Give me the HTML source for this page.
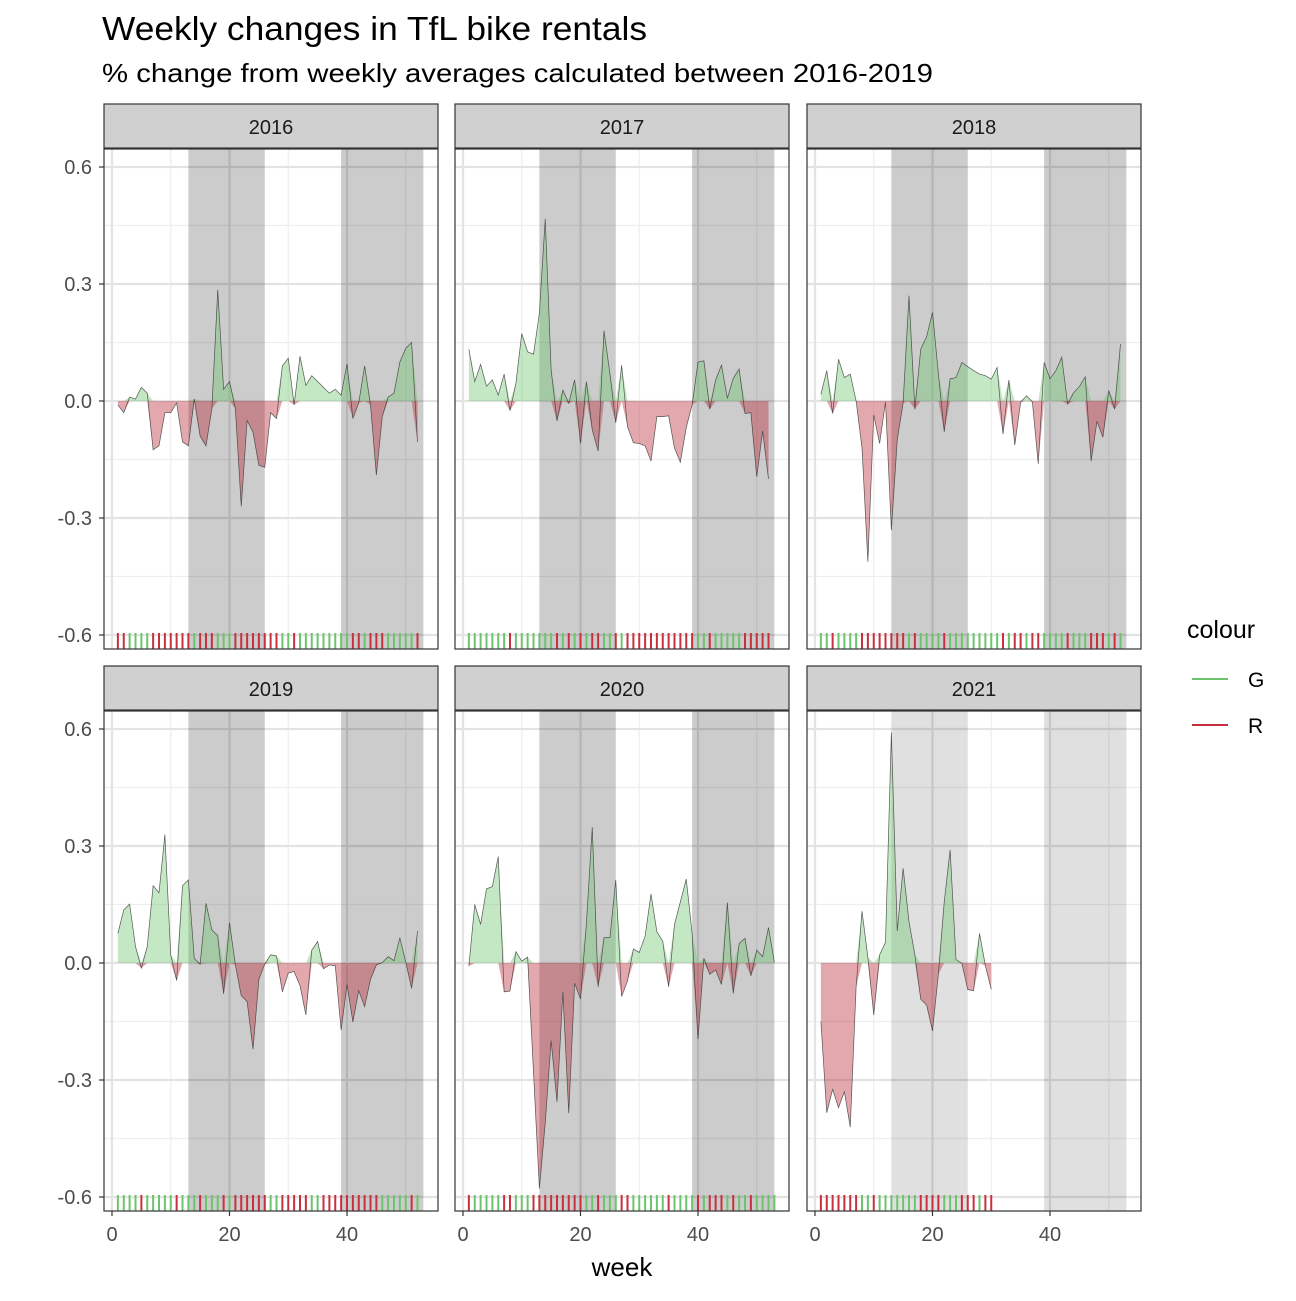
<!DOCTYPE html>
<html><head><meta charset="utf-8"><style>
body{margin:0;background:#fff;}
svg text{font-family:"Liberation Sans",Arial,sans-serif;}
</style></head><body>
<svg id="chart" width="1296" height="1296" viewBox="0 0 1296 1296" xmlns="http://www.w3.org/2000/svg">
<rect width="1296" height="1296" fill="#fff"/>
<text x="102" y="40" font-size="33" textLength="545" lengthAdjust="spacingAndGlyphs" fill="#000">Weekly changes in TfL bike rentals</text>
<text x="102" y="82" font-size="26" textLength="831" lengthAdjust="spacingAndGlyphs" fill="#000">% change from weekly averages calculated between 2016-2019</text>
<text x="622" y="1276" font-size="26" text-anchor="middle" fill="#000">week</text>
<g>
<text x="1187" y="638" font-size="25" fill="#000">colour</text>
<line x1="1192" y1="679" x2="1228" y2="679" stroke="#6cc46c" stroke-width="2"/>
<text x="1248" y="687" font-size="21" fill="#000">G</text>
<line x1="1192" y1="725" x2="1228" y2="725" stroke="#c8303f" stroke-width="2"/>
<text x="1248" y="733" font-size="21" fill="#000">R</text>
</g>
<g id="panels"></g>
</svg>
<script>
const years = ["2016","2017","2018","2019","2020","2021"];
const v2016 = [-0.01,-0.03,0.01,0.005,0.035,0.02,-0.125,-0.115,-0.03,-0.03,-0.005,-0.105,-0.115,0.005,-0.09,-0.115,-0.02,0.285,0.03,0.05,-0.02,-0.27,-0.05,-0.08,-0.165,-0.17,-0.03,-0.045,0.09,0.11,-0.01,0.115,0.04,0.065,0.05,0.035,0.02,0.03,0.015,0.095,-0.045,-0.005,0.09,-0.01,-0.19,-0.04,0.01,0.02,0.1,0.135,0.15,-0.105];
const v2017 = [0.133,0.05,0.094,0.038,0.054,0.015,0.069,-0.025,0.045,0.173,0.126,0.12,0.225,0.467,0.08,-0.051,0.028,-0.006,0.054,-0.109,0.05,-0.074,-0.128,0.18,0.071,-0.056,0.092,-0.066,-0.107,-0.109,-0.115,-0.154,-0.04,-0.04,-0.038,-0.121,-0.157,-0.068,-0.01,0.1,0.103,-0.021,0.054,0.092,0.007,0.058,0.082,-0.032,-0.03,-0.194,-0.077,-0.2];
const v2018 = [0.017,0.078,-0.032,0.107,0.06,0.069,0.0,-0.12,-0.412,-0.036,-0.109,-0.002,-0.331,-0.1,-0.005,0.27,-0.021,0.133,0.165,0.227,0.07,-0.079,0.057,0.06,0.099,0.088,0.078,0.069,0.065,0.056,0.086,-0.085,0.054,-0.113,-0.003,0.013,-0.002,-0.161,0.099,0.057,0.078,0.112,-0.008,0.021,0.037,0.062,-0.154,-0.052,-0.093,0.027,-0.021,0.146];
const v2019 = [0.076,0.136,0.151,0.042,-0.013,0.042,0.198,0.18,0.329,0.021,-0.045,0.198,0.213,0.012,-0.003,0.153,0.085,0.07,-0.079,0.103,-0.005,-0.084,-0.099,-0.221,-0.042,-0.003,0.021,0.018,-0.074,-0.026,-0.022,-0.058,-0.133,0.033,0.055,-0.015,-0.005,-0.007,-0.172,-0.055,-0.151,-0.071,-0.112,-0.042,-0.005,0.001,0.016,0.006,0.065,0.002,-0.065,0.082];
const v2020 = [-0.008,0.15,0.099,0.19,0.196,0.273,-0.074,-0.072,0.029,0.005,0.015,-0.28,-0.578,-0.41,-0.199,-0.356,-0.074,-0.385,-0.052,-0.092,0.1,0.348,-0.061,0.065,0.065,0.213,-0.086,-0.046,0.036,0.027,0.069,0.177,0.08,0.056,-0.061,0.099,0.157,0.215,0.076,-0.195,0.012,-0.029,-0.018,-0.055,0.155,-0.078,0.05,0.063,-0.033,0.033,0.016,0.091,0.001];
const v2021 = [-0.15,-0.384,-0.324,-0.371,-0.33,-0.421,-0.061,0.133,0.015,-0.133,0.021,0.053,0.591,0.082,0.243,0.106,0.021,-0.093,-0.108,-0.174,-0.029,0.157,0.29,0.009,-0.001,-0.068,-0.071,0.076,-0.007,-0.068];
const seriesByYear = [v2016,v2017,v2018,v2019,v2020,v2021];
const yTicks = [-0.6,-0.3,0,0.3,0.6];
const yTickLabels = ["-0.6","-0.3","0.0","0.3","0.6"];
const xTicks = [0,20,40];
const shadeRanges = [[13,26],[39,53]];

const NS="http://www.w3.org/2000/svg";
const root=document.getElementById('panels');
const colLeft=[104,455,807], panelW=334;
const rowTop=[149,711], panelH=500;
function mk(tag,attrs,parent){const e=document.createElementNS(NS,tag);for(const k in attrs)e.setAttribute(k,attrs[k]);(parent||root).appendChild(e);return e;}
function xScale(col,w){return colLeft[col]+8+w*5.875;}
function yScale(row,v){return rowTop[row]+252-v*390;}

years.forEach((yr,i)=>{
  const col=i%3,row=Math.floor(i/3);
  const L=colLeft[col],T=rowTop[row];
  const g=mk('g',{});
  
  
  const cp=mk('clipPath',{id:'cp'+i},g);mk('rect',{x:L,y:T,width:panelW,height:panelH},cp);
  const inner=mk('g',{'clip-path':'url(#cp'+i+')'},g);
  [10,30,50].forEach(w=>mk('line',{x1:xScale(col,w),x2:xScale(col,w),y1:T,y2:T+panelH,stroke:'#eeeeee','stroke-width':1.2},inner));
  [-0.45,-0.15,0.15,0.45].forEach(v=>mk('line',{x1:L,x2:L+panelW,y1:yScale(row,v),y2:yScale(row,v),stroke:'#eeeeee','stroke-width':1.2},inner));
  xTicks.forEach(w=>mk('line',{x1:xScale(col,w),x2:xScale(col,w),y1:T,y2:T+panelH,stroke:'#e3e3e3','stroke-width':2.2},inner));
  yTicks.forEach(v=>mk('line',{x1:L,x2:L+panelW,y1:yScale(row,v),y2:yScale(row,v),stroke:'#e3e3e3','stroke-width':2.2},inner));
  const op = yr==="2021"?0.12:0.2;
  shadeRanges.forEach((r,k)=>{
    const s=mk('rect',{x:xScale(col,r[0]),y:T,width:xScale(col,r[1])-xScale(col,r[0]),height:panelH,fill:'#000','fill-opacity':op},inner);
    
    
  });
  const vals=seriesByYear[i];
  const y0=yScale(row,0);
  let pos='M'+xScale(col,1)+','+y0, neg='M'+xScale(col,1)+','+y0, line='';
  vals.forEach((v,j)=>{const x=xScale(col,j+1);
    pos+=' L'+x+','+yScale(row,Math.max(v,0));
    neg+=' L'+x+','+yScale(row,Math.min(v,0));
    line+=(j?' L':'M')+x+','+yScale(row,v);});
  const xe=xScale(col,vals.length);
  pos+=' L'+xe+','+y0+' Z'; neg+=' L'+xe+','+y0+' Z';
  const pa=mk('path',{d:pos,fill:'#6cc46c','fill-opacity':0.4},inner);
  
  
  const na=mk('path',{d:neg,fill:'#b62532','fill-opacity':0.4},inner);
  
  
  const ln=mk('path',{d:line,fill:'none',stroke:'#333','stroke-opacity':0.8,'stroke-width':0.7},inner);
  
  
  vals.forEach((v,j)=>{const x=xScale(col,j+1);
    const t=mk('line',{x1:x,x2:x,y1:yScale(row,-0.6)-2,y2:T+panelH,stroke:v>=0?'#6cc46c':'#c8303f','stroke-width':2},inner);
    
    
  });
  mk('rect',{x:L,y:T,width:panelW,height:panelH,fill:'none',stroke:'#333','stroke-width':1.2},g);
  const st=mk('rect',{x:L,y:T-45,width:panelW,height:44,fill:'#d0d0d0',stroke:'#333','stroke-width':1.2},g);
  
  
  const stt=mk('text',{x:L+panelW/2,y:T-15,'font-size':20,'text-anchor':'middle',fill:'#1a1a1a'},g);
  stt.textContent=yr;
  
  
  if(col===0){yTicks.forEach((v,k)=>{const y=yScale(row,v);
    mk('line',{x1:L-5,x2:L,y1:y,y2:y,stroke:'#333','stroke-width':1.2},g);
    const tx=mk('text',{x:L-12,y:y+7,'font-size':20,'text-anchor':'end',fill:'#4d4d4d'},g);
    tx.textContent=yTickLabels[k];
    
    });}
  if(row===1){xTicks.forEach(w=>{const x=xScale(col,w);
    mk('line',{x1:x,x2:x,y1:T+panelH,y2:T+panelH+5,stroke:'#333','stroke-width':1.2},g);
    const tx=mk('text',{x:x,y:T+panelH+30,'font-size':20,'text-anchor':'middle',fill:'#4d4d4d'},g);
    tx.textContent=String(w);
    
    });}
});
</script>
</body></html>
